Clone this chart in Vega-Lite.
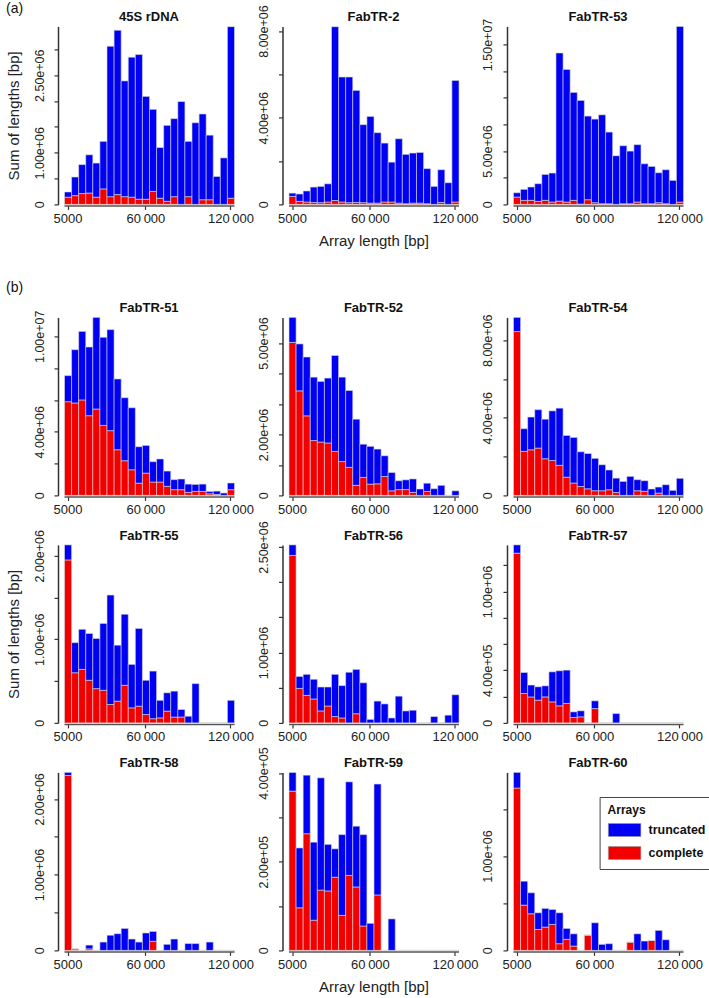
{
  "$schema": "https://vega.github.io/schema/vega-lite/v6.json",
  "background": "white",
  "padding": {"left": 5, "top": 2.4, "right": 0, "bottom": 0},
  "config": {
    "font": "Liberation Sans",
    "view": {"stroke": null},
    "bar": {"binSpacing": 0, "stroke": "#d9d9d9", "strokeWidth": 0.6},
    "axis": {"grid": false, "domainColor": "#333333", "domainWidth": 1.5, "tickColor": "#333333", "tickWidth": 1.2, "tickSize": 4, "labelFont": "Liberation Sans", "labelFontSize": 13, "labelColor": "#222222", "titleFont": "Liberation Sans", "titleFontSize": 15, "titleFontWeight": "normal", "titleColor": "#222222", "labelOverlap": false, "labelBound": false},
    "axisX": {"labelPadding": 3, "labelFlush": false, "titlePadding": 8.5, "offset": 1, "domainColor": "#555555"},
    "axisY": {"labelAngle": -90, "labelAlign": "center", "labelBaseline": "bottom", "labelPadding": 8, "offset": 6, "titlePadding": 12, "labelFontSize": 12.5},
    "title": {"fontSize": 13, "fontWeight": "bold", "offset": 2, "color": "#111111", "font": "Liberation Sans"}
  },
  "datasets": {
    "p45": [
      {"len":5000,"complete":140000,"truncated":100000},{"len":10000,"complete":170000,"truncated":360000},{"len":15000,"complete":210000,"truncated":560000},{"len":20000,"complete":220000,"truncated":740000},{"len":25000,"complete":140000,"truncated":660000},{"len":30000,"complete":300000,"truncated":920000},{"len":35000,"complete":150000,"truncated":2910000},{"len":40000,"complete":190000,"truncated":3180000},{"len":45000,"complete":150000,"truncated":2240000},{"len":50000,"complete":140000,"truncated":2710000},{"len":55000,"complete":100000,"truncated":2800000},{"len":60000,"complete":100000,"truncated":1990000},{"len":65000,"complete":250000,"truncated":1590000},{"len":70000,"complete":120000,"truncated":980000},{"len":75000,"complete":60000,"truncated":1470000},{"len":80000,"complete":150000,"truncated":1510000},{"len":85000,"complete":0,"truncated":1990000},{"len":90000,"complete":150000,"truncated":1070000},{"len":95000,"complete":0,"truncated":1580000},{"len":100000,"complete":90000,"truncated":1660000},{"len":105000,"complete":90000,"truncated":1250000},{"len":110000,"complete":0,"truncated":540000},{"len":115000,"complete":0,"truncated":900000},{"len":120000,"complete":120000,"truncated":3320000}
    ],
    "p2": [
      {"len":5000,"complete":370000,"truncated":150000},{"len":10000,"complete":140000,"truncated":340000},{"len":15000,"complete":110000,"truncated":510000},{"len":20000,"complete":90000,"truncated":710000},{"len":25000,"complete":80000,"truncated":750000},{"len":30000,"complete":110000,"truncated":840000},{"len":35000,"complete":180000,"truncated":8020000},{"len":40000,"complete":110000,"truncated":5770000},{"len":45000,"complete":80000,"truncated":5800000},{"len":50000,"complete":90000,"truncated":5170000},{"len":55000,"complete":80000,"truncated":3600000},{"len":60000,"complete":60000,"truncated":4000000},{"len":65000,"complete":60000,"truncated":3250000},{"len":70000,"complete":110000,"truncated":2720000},{"len":75000,"complete":110000,"truncated":1840000},{"len":80000,"complete":60000,"truncated":2970000},{"len":85000,"complete":30000,"truncated":2280000},{"len":90000,"complete":60000,"truncated":2310000},{"len":95000,"complete":60000,"truncated":2340000},{"len":100000,"complete":30000,"truncated":1620000},{"len":105000,"complete":0,"truncated":830000},{"len":110000,"complete":90000,"truncated":1510000},{"len":115000,"complete":0,"truncated":1000000},{"len":120000,"complete":110000,"truncated":5610000}
    ],
    "p53": [
      {"len":5000,"complete":690000,"truncated":400000},{"len":10000,"complete":380000,"truncated":1030000},{"len":15000,"complete":380000,"truncated":1250000},{"len":20000,"complete":280000,"truncated":1660000},{"len":25000,"complete":380000,"truncated":2430000},{"len":30000,"complete":220000,"truncated":2720000},{"len":35000,"complete":310000,"truncated":13890000},{"len":40000,"complete":220000,"truncated":12440000},{"len":45000,"complete":380000,"truncated":10120000},{"len":50000,"complete":30000,"truncated":9720000},{"len":55000,"complete":440000,"truncated":7840000},{"len":60000,"complete":160000,"truncated":7840000},{"len":65000,"complete":60000,"truncated":8340000},{"len":70000,"complete":60000,"truncated":6720000},{"len":75000,"complete":0,"truncated":4560000},{"len":80000,"complete":60000,"truncated":5440000},{"len":85000,"complete":60000,"truncated":4940000},{"len":90000,"complete":220000,"truncated":5380000},{"len":95000,"complete":60000,"truncated":3750000},{"len":100000,"complete":60000,"truncated":3500000},{"len":105000,"complete":160000,"truncated":2810000},{"len":110000,"complete":60000,"truncated":3190000},{"len":115000,"complete":0,"truncated":2250000},{"len":120000,"complete":220000,"truncated":16460000}
    ],
    "p51": [
      {"len":5000,"complete":5890000,"truncated":1640000},{"len":10000,"complete":5810000,"truncated":3350000},{"len":15000,"complete":6000000,"truncated":4310000},{"len":20000,"complete":5010000,"truncated":4320000},{"len":25000,"complete":5430000,"truncated":5760000},{"len":30000,"complete":4400000,"truncated":5540000},{"len":35000,"complete":4070000,"truncated":6350000},{"len":40000,"complete":2870000,"truncated":4450000},{"len":45000,"complete":2180000,"truncated":3960000},{"len":50000,"complete":1610000,"truncated":3900000},{"len":55000,"complete":770000,"truncated":2290000},{"len":60000,"complete":1400000,"truncated":1740000},{"len":65000,"complete":840000,"truncated":1280000},{"len":70000,"complete":840000,"truncated":1450000},{"len":75000,"complete":570000,"truncated":960000},{"len":80000,"complete":360000,"truncated":630000},{"len":85000,"complete":360000,"truncated":670000},{"len":90000,"complete":190000,"truncated":520000},{"len":95000,"complete":250000,"truncated":440000},{"len":100000,"complete":250000,"truncated":460000},{"len":105000,"complete":100000,"truncated":150000},{"len":110000,"complete":60000,"truncated":210000},{"len":115000,"complete":0,"truncated":150000},{"len":120000,"complete":360000,"truncated":420000}
    ],
    "p52": [
      {"len":5000,"complete":5020000,"truncated":820000},{"len":10000,"complete":3430000,"truncated":1540000},{"len":15000,"complete":2610000,"truncated":1930000},{"len":20000,"complete":1800000,"truncated":2080000},{"len":25000,"complete":1750000,"truncated":1990000},{"len":30000,"complete":1720000,"truncated":2130000},{"len":35000,"complete":1440000,"truncated":3150000},{"len":40000,"complete":1110000,"truncated":2770000},{"len":45000,"complete":920000,"truncated":2520000},{"len":50000,"complete":330000,"truncated":2170000},{"len":55000,"complete":590000,"truncated":1090000},{"len":60000,"complete":370000,"truncated":1240000},{"len":65000,"complete":380000,"truncated":1140000},{"len":70000,"complete":620000,"truncated":680000},{"len":75000,"complete":150000,"truncated":600000},{"len":80000,"complete":190000,"truncated":290000},{"len":85000,"complete":190000,"truncated":320000},{"len":90000,"complete":100000,"truncated":440000},{"len":95000,"complete":0,"truncated":210000},{"len":100000,"complete":130000,"truncated":270000},{"len":105000,"complete":0,"truncated":220000},{"len":110000,"complete":0,"truncated":330000},{"len":115000,"complete":0,"truncated":0},{"len":120000,"complete":0,"truncated":150000}
    ],
    "p54": [
      {"len":5000,"complete":8450000,"truncated":730000},{"len":10000,"complete":2270000,"truncated":1170000},{"len":15000,"complete":2350000,"truncated":1690000},{"len":20000,"complete":2440000,"truncated":1980000},{"len":25000,"complete":1890000,"truncated":2040000},{"len":30000,"complete":1800000,"truncated":2560000},{"len":35000,"complete":1550000,"truncated":2950000},{"len":40000,"complete":940000,"truncated":2150000},{"len":45000,"complete":640000,"truncated":2350000},{"len":50000,"complete":460000,"truncated":1790000},{"len":55000,"complete":340000,"truncated":1820000},{"len":60000,"complete":240000,"truncated":1670000},{"len":65000,"complete":240000,"truncated":1340000},{"len":70000,"complete":290000,"truncated":1020000},{"len":75000,"complete":150000,"truncated":740000},{"len":80000,"complete":0,"truncated":720000},{"len":85000,"complete":0,"truncated":980000},{"len":90000,"complete":240000,"truncated":570000},{"len":95000,"complete":210000,"truncated":550000},{"len":100000,"complete":0,"truncated":330000},{"len":105000,"complete":120000,"truncated":310000},{"len":110000,"complete":0,"truncated":550000},{"len":115000,"complete":0,"truncated":260000},{"len":120000,"complete":0,"truncated":880000}
    ],
    "p55": [
      {"len":5000,"complete":1950000,"truncated":180000},{"len":10000,"complete":600000,"truncated":360000},{"len":15000,"complete":640000,"truncated":480000},{"len":20000,"complete":510000,"truncated":560000},{"len":25000,"complete":410000,"truncated":600000},{"len":30000,"complete":390000,"truncated":800000},{"len":35000,"complete":220000,"truncated":1310000},{"len":40000,"complete":260000,"truncated":670000},{"len":45000,"complete":450000,"truncated":850000},{"len":50000,"complete":180000,"truncated":520000},{"len":55000,"complete":200000,"truncated":930000},{"len":60000,"complete":100000,"truncated":410000},{"len":65000,"complete":50000,"truncated":570000},{"len":70000,"complete":60000,"truncated":210000},{"len":75000,"complete":140000,"truncated":220000},{"len":80000,"complete":70000,"truncated":310000},{"len":85000,"complete":70000,"truncated":90000},{"len":90000,"complete":0,"truncated":80000},{"len":95000,"complete":0,"truncated":470000},{"len":100000,"complete":0,"truncated":0},{"len":105000,"complete":0,"truncated":0},{"len":110000,"complete":0,"truncated":0},{"len":115000,"complete":0,"truncated":0},{"len":120000,"complete":0,"truncated":270000}
    ],
    "p56": [
      {"len":5000,"complete":2380000,"truncated":150000},{"len":10000,"complete":490000,"truncated":170000},{"len":15000,"complete":390000,"truncated":300000},{"len":20000,"complete":340000,"truncated":280000},{"len":25000,"complete":170000,"truncated":340000},{"len":30000,"complete":240000,"truncated":270000},{"len":35000,"complete":90000,"truncated":600000},{"len":40000,"complete":70000,"truncated":460000},{"len":45000,"complete":0,"truncated":720000},{"len":50000,"complete":130000,"truncated":630000},{"len":55000,"complete":0,"truncated":570000},{"len":60000,"complete":0,"truncated":50000},{"len":65000,"complete":0,"truncated":310000},{"len":70000,"complete":0,"truncated":270000},{"len":75000,"complete":0,"truncated":70000},{"len":80000,"complete":0,"truncated":380000},{"len":85000,"complete":0,"truncated":170000},{"len":90000,"complete":0,"truncated":180000},{"len":95000,"complete":0,"truncated":0},{"len":100000,"complete":0,"truncated":0},{"len":105000,"complete":0,"truncated":90000},{"len":110000,"complete":0,"truncated":0},{"len":115000,"complete":0,"truncated":110000},{"len":120000,"complete":0,"truncated":400000}
    ],
    "p57": [
      {"len":5000,"complete":1293000,"truncated":63000},{"len":10000,"complete":224000,"truncated":160000},{"len":15000,"complete":198000,"truncated":90000},{"len":20000,"complete":173000,"truncated":102000},{"len":25000,"complete":198000,"truncated":84000},{"len":30000,"complete":160000,"truncated":229000},{"len":35000,"complete":130000,"truncated":267000},{"len":40000,"complete":148000,"truncated":254000},{"len":45000,"complete":41000,"truncated":43000},{"len":50000,"complete":46000,"truncated":46000},{"len":55000,"complete":0,"truncated":0},{"len":60000,"complete":109000,"truncated":59000},{"len":65000,"complete":0,"truncated":0},{"len":70000,"complete":0,"truncated":0},{"len":75000,"complete":0,"truncated":71000},{"len":80000,"complete":0,"truncated":0},{"len":85000,"complete":0,"truncated":0},{"len":90000,"complete":0,"truncated":0},{"len":95000,"complete":0,"truncated":0},{"len":100000,"complete":0,"truncated":0},{"len":105000,"complete":0,"truncated":0},{"len":110000,"complete":0,"truncated":0},{"len":115000,"complete":0,"truncated":0},{"len":120000,"complete":0,"truncated":0}
    ],
    "p58": [
      {"len":5000,"complete":2310000,"truncated":40000},{"len":10000,"complete":20000,"truncated":0},{"len":15000,"complete":0,"truncated":0},{"len":20000,"complete":20000,"truncated":50000},{"len":25000,"complete":0,"truncated":0},{"len":30000,"complete":0,"truncated":110000},{"len":35000,"complete":0,"truncated":200000},{"len":40000,"complete":0,"truncated":220000},{"len":45000,"complete":0,"truncated":290000},{"len":50000,"complete":0,"truncated":150000},{"len":55000,"complete":0,"truncated":110000},{"len":60000,"complete":0,"truncated":230000},{"len":65000,"complete":120000,"truncated":130000},{"len":70000,"complete":0,"truncated":0},{"len":75000,"complete":0,"truncated":80000},{"len":80000,"complete":0,"truncated":150000},{"len":85000,"complete":0,"truncated":0},{"len":90000,"complete":0,"truncated":90000},{"len":95000,"complete":0,"truncated":90000},{"len":100000,"complete":0,"truncated":0},{"len":105000,"complete":0,"truncated":110000},{"len":110000,"complete":0,"truncated":0},{"len":115000,"complete":0,"truncated":0},{"len":120000,"complete":0,"truncated":0}
    ],
    "p59": [
      {"len":5000,"complete":359000,"truncated":42000},{"len":10000,"complete":96000,"truncated":135000},{"len":15000,"complete":263000,"truncated":132000},{"len":20000,"complete":68000,"truncated":176000},{"len":25000,"complete":136000,"truncated":253000},{"len":30000,"complete":134000,"truncated":105000},{"len":35000,"complete":165000,"truncated":64000},{"len":40000,"complete":79000,"truncated":182000},{"len":45000,"complete":169000,"truncated":211000},{"len":50000,"complete":143000,"truncated":137000},{"len":55000,"complete":55000,"truncated":206000},{"len":60000,"complete":0,"truncated":61000},{"len":65000,"complete":125000,"truncated":250000},{"len":70000,"complete":0,"truncated":0},{"len":75000,"complete":0,"truncated":71000},{"len":80000,"complete":0,"truncated":0},{"len":85000,"complete":0,"truncated":0},{"len":90000,"complete":0,"truncated":0},{"len":95000,"complete":0,"truncated":0},{"len":100000,"complete":0,"truncated":0},{"len":105000,"complete":0,"truncated":0},{"len":110000,"complete":0,"truncated":0},{"len":115000,"complete":0,"truncated":0},{"len":120000,"complete":0,"truncated":0}
    ],
    "p60": [
      {"len":5000,"complete":1722000,"truncated":166000},{"len":10000,"complete":480000,"truncated":254000},{"len":15000,"complete":388000,"truncated":223000},{"len":20000,"complete":222000,"truncated":177000},{"len":25000,"complete":247000,"truncated":198000},{"len":30000,"complete":275000,"truncated":159000},{"len":35000,"complete":71000,"truncated":328000},{"len":40000,"complete":117000,"truncated":116000},{"len":45000,"complete":46000,"truncated":130000},{"len":50000,"complete":0,"truncated":0},{"len":55000,"complete":162000,"truncated":0},{"len":60000,"complete":0,"truncated":293000},{"len":65000,"complete":0,"truncated":64000},{"len":70000,"complete":0,"truncated":71000},{"len":75000,"complete":0,"truncated":0},{"len":80000,"complete":0,"truncated":0},{"len":85000,"complete":88000,"truncated":0},{"len":90000,"complete":0,"truncated":176000},{"len":95000,"complete":0,"truncated":99000},{"len":100000,"complete":106000,"truncated":0},{"len":105000,"complete":0,"truncated":212000},{"len":110000,"complete":0,"truncated":113000},{"len":115000,"complete":0,"truncated":0},{"len":120000,"complete":0,"truncated":0}
    ]
  },
  "resolve": {"scale": {"color": "independent"}, "legend": {"color": "independent"}},
  "spacing": 31,
  "vconcat": [
    {
      "title": {"text": "(a)", "anchor": "start", "frame": "bounds", "fontWeight": "normal", "fontSize": 14, "offset": -11.6},
      "bounds": "flush",
      "spacing": 54.5,
      "resolve": {"scale": {"color": "independent"}, "legend": {"color": "independent"}},
      "hconcat": [
        {"title": {"text": "45S rDNA", "offset": 2}, "width": 170, "height": 178, "data": {"name": "p45"},
         "transform": [{"fold": ["complete", "truncated"], "as": ["type", "bp"]}],
         "mark": "bar",
         "encoding": {
           "x": {"field": "len", "type": "quantitative", "bin": {"step": 5000, "extent": [2500, 122500], "nice": false}, "scale": {"domain": [2500, 122500]}, "axis": {"values": [5000, 60000, 120000], "labelExpr": "datum.value == 5000 ? '5000' : datum.value == 60000 ? '60\u2009000' : '120\u2009000'", "title": null}},
           "y": {"aggregate": "sum", "field": "bp", "type": "quantitative", "scale": {"domain": [0, 3445000], "nice": false}, "axis": {"values": [0, 500000, 1000000, 1500000, 2000000, 2500000, 3000000], "labelExpr": "datum.value == 0 ? '0' : indexof([1000000, 2500000], datum.value) >= 0 ? replace(format(datum.value, '.2e'), 'e+', 'e+0') : ''", "title": "Sum of lengths [bp]"}},
           "color": {"field": "type", "type": "nominal", "scale": {"domain": ["truncated", "complete"], "range": ["#0000f2", "#f20000"]}, "legend": null},
           "order": {"field": "type", "type": "nominal", "sort": "ascending"}
         }},
        {"title": {"text": "FabTR-2", "offset": -19.6}, "width": 170, "height": 178, "data": {"name": "p2"},
         "transform": [{"fold": ["complete", "truncated"], "as": ["type", "bp"]}],
         "mark": "bar",
         "encoding": {
           "x": {"field": "len", "type": "quantitative", "bin": {"step": 5000, "extent": [2500, 122500], "nice": false}, "scale": {"domain": [2500, 122500]}, "axis": {"values": [5000, 60000, 120000], "labelExpr": "datum.value == 5000 ? '5000' : datum.value == 60000 ? '60\u2009000' : '120\u2009000'", "title": "Array length [bp]"}},
           "y": {"aggregate": "sum", "field": "bp", "type": "quantitative", "scale": {"domain": [0, 8215000], "nice": false}, "axis": {"values": [0, 2000000, 4000000, 6000000, 8000000], "labelExpr": "datum.value == 0 ? '0' : indexof([4000000, 8000000], datum.value) >= 0 ? replace(format(datum.value, '.2e'), 'e+', 'e+0') : ''", "title": null}},
           "color": {"field": "type", "type": "nominal", "scale": {"domain": ["truncated", "complete"], "range": ["#0000f2", "#f20000"]}, "legend": null},
           "order": {"field": "type", "type": "nominal", "sort": "ascending"}
         }},
        {"title": {"text": "FabTR-53", "offset": -6.2}, "width": 170, "height": 178, "data": {"name": "p53"},
         "transform": [{"fold": ["complete", "truncated"], "as": ["type", "bp"]}],
         "mark": "bar",
         "encoding": {
           "x": {"field": "len", "type": "quantitative", "bin": {"step": 5000, "extent": [2500, 122500], "nice": false}, "scale": {"domain": [2500, 122500]}, "axis": {"values": [5000, 60000, 120000], "labelExpr": "datum.value == 5000 ? '5000' : datum.value == 60000 ? '60\u2009000' : '120\u2009000'", "title": null}},
           "y": {"aggregate": "sum", "field": "bp", "type": "quantitative", "scale": {"domain": [0, 16690000], "nice": false}, "axis": {"values": [0, 2500000, 5000000, 7500000, 10000000, 12500000, 15000000], "labelExpr": "datum.value == 0 ? '0' : indexof([5000000, 15000000], datum.value) >= 0 ? replace(format(datum.value, '.2e'), 'e+', 'e+0') : ''", "title": null}},
           "color": {"field": "type", "type": "nominal", "scale": {"domain": ["truncated", "complete"], "range": ["#0000f2", "#f20000"]}, "legend": null},
           "order": {"field": "type", "type": "nominal", "sort": "ascending"}
         }}
      ]
    },
    {
      "title": {"text": "(b)", "anchor": "start", "frame": "bounds", "fontWeight": "normal", "fontSize": 14, "offset": 7},
      "bounds": "flush",
      "columns": 3,
      "spacing": {"row": 49.5, "column": 54.5},
      "resolve": {"scale": {"color": "independent"}, "legend": {"color": "independent"}},
      "concat": [
        {"title": {"text": "FabTR-51", "offset": -5.3}, "width": 170, "height": 178, "data": {"name": "p51"},
         "transform": [{"fold": ["complete", "truncated"], "as": ["type", "bp"]}],
         "mark": "bar",
         "encoding": {
           "x": {"field": "len", "type": "quantitative", "bin": {"step": 5000, "extent": [2500, 122500], "nice": false}, "scale": {"domain": [2500, 122500]}, "axis": {"values": [5000, 60000, 120000], "labelExpr": "datum.value == 5000 ? '5000' : datum.value == 60000 ? '60\u2009000' : '120\u2009000'", "title": null}},
           "y": {"aggregate": "sum", "field": "bp", "type": "quantitative", "scale": {"domain": [0, 11190000], "nice": false}, "axis": {"values": [0, 2000000, 4000000, 6000000, 8000000, 10000000], "labelExpr": "datum.value == 0 ? '0' : indexof([4000000, 10000000], datum.value) >= 0 ? replace(format(datum.value, '.2e'), 'e+', 'e+0') : ''", "title": null}},
           "color": {"field": "type", "type": "nominal", "scale": {"domain": ["truncated", "complete"], "range": ["#0000f2", "#f20000"]}, "legend": null},
           "order": {"field": "type", "type": "nominal", "sort": "ascending"}
         }},
        {"title": {"text": "FabTR-52", "offset": 1.35}, "width": 170, "height": 178, "data": {"name": "p52"},
         "transform": [{"fold": ["complete", "truncated"], "as": ["type", "bp"]}],
         "mark": "bar",
         "encoding": {
           "x": {"field": "len", "type": "quantitative", "bin": {"step": 5000, "extent": [2500, 122500], "nice": false}, "scale": {"domain": [2500, 122500]}, "axis": {"values": [5000, 60000, 120000], "labelExpr": "datum.value == 5000 ? '5000' : datum.value == 60000 ? '60\u2009000' : '120\u2009000'", "title": null}},
           "y": {"aggregate": "sum", "field": "bp", "type": "quantitative", "scale": {"domain": [0, 5840000], "nice": false}, "axis": {"values": [0, 1000000, 2000000, 3000000, 4000000, 5000000], "labelExpr": "datum.value == 0 ? '0' : indexof([2000000, 5000000], datum.value) >= 0 ? replace(format(datum.value, '.2e'), 'e+', 'e+0') : ''", "title": null}},
           "color": {"field": "type", "type": "nominal", "scale": {"domain": ["truncated", "complete"], "range": ["#0000f2", "#f20000"]}, "legend": null},
           "order": {"field": "type", "type": "nominal", "sort": "ascending"}
         }},
        {"title": {"text": "FabTR-54", "offset": -1.4}, "width": 170, "height": 178, "data": {"name": "p54"},
         "transform": [{"fold": ["complete", "truncated"], "as": ["type", "bp"]}],
         "mark": "bar",
         "encoding": {
           "x": {"field": "len", "type": "quantitative", "bin": {"step": 5000, "extent": [2500, 122500], "nice": false}, "scale": {"domain": [2500, 122500]}, "axis": {"values": [5000, 60000, 120000], "labelExpr": "datum.value == 5000 ? '5000' : datum.value == 60000 ? '60\u2009000' : '120\u2009000'", "title": null}},
           "y": {"aggregate": "sum", "field": "bp", "type": "quantitative", "scale": {"domain": [0, 9180000], "nice": false}, "axis": {"values": [0, 2000000, 4000000, 6000000, 8000000], "labelExpr": "datum.value == 0 ? '0' : indexof([4000000, 8000000], datum.value) >= 0 ? replace(format(datum.value, '.2e'), 'e+', 'e+0') : ''", "title": null}},
           "color": {"field": "type", "type": "nominal", "scale": {"domain": ["truncated", "complete"], "range": ["#0000f2", "#f20000"]}, "legend": null},
           "order": {"field": "type", "type": "nominal", "sort": "ascending"}
         }},
        {"title": {"text": "FabTR-55", "offset": -13.4}, "width": 170, "height": 178, "data": {"name": "p55"},
         "transform": [{"fold": ["complete", "truncated"], "as": ["type", "bp"]}],
         "mark": "bar",
         "encoding": {
           "x": {"field": "len", "type": "quantitative", "bin": {"step": 5000, "extent": [2500, 122500], "nice": false}, "scale": {"domain": [2500, 122500]}, "axis": {"values": [5000, 60000, 120000], "labelExpr": "datum.value == 5000 ? '5000' : datum.value == 60000 ? '60\u2009000' : '120\u2009000'", "title": null}},
           "y": {"aggregate": "sum", "field": "bp", "type": "quantitative", "scale": {"domain": [0, 2130000], "nice": false}, "axis": {"values": [0, 500000, 1000000, 1500000, 2000000], "labelExpr": "datum.value == 0 ? '0' : indexof([1000000, 2000000], datum.value) >= 0 ? replace(format(datum.value, '.2e'), 'e+', 'e+0') : ''", "title": "Sum of lengths [bp]"}},
           "color": {"field": "type", "type": "nominal", "scale": {"domain": ["truncated", "complete"], "range": ["#0000f2", "#f20000"]}, "legend": null},
           "order": {"field": "type", "type": "nominal", "sort": "ascending"}
         }},
        {"title": {"text": "FabTR-56", "offset": -22.1}, "width": 170, "height": 178, "data": {"name": "p56"},
         "transform": [{"fold": ["complete", "truncated"], "as": ["type", "bp"]}],
         "mark": "bar",
         "encoding": {
           "x": {"field": "len", "type": "quantitative", "bin": {"step": 5000, "extent": [2500, 122500], "nice": false}, "scale": {"domain": [2500, 122500]}, "axis": {"values": [5000, 60000, 120000], "labelExpr": "datum.value == 5000 ? '5000' : datum.value == 60000 ? '60\u2009000' : '120\u2009000'", "title": null}},
           "y": {"aggregate": "sum", "field": "bp", "type": "quantitative", "scale": {"domain": [0, 2530000], "nice": false}, "axis": {"values": [0, 500000, 1000000, 1500000, 2000000, 2500000], "labelExpr": "datum.value == 0 ? '0' : indexof([1000000, 2500000], datum.value) >= 0 ? replace(format(datum.value, '.2e'), 'e+', 'e+0') : ''", "title": null}},
           "color": {"field": "type", "type": "nominal", "scale": {"domain": ["truncated", "complete"], "range": ["#0000f2", "#f20000"]}, "legend": null},
           "order": {"field": "type", "type": "nominal", "sort": "ascending"}
         }},
        {"title": {"text": "FabTR-57", "offset": 2}, "width": 170, "height": 178, "data": {"name": "p57"},
         "transform": [{"fold": ["complete", "truncated"], "as": ["type", "bp"]}],
         "mark": "bar",
         "encoding": {
           "x": {"field": "len", "type": "quantitative", "bin": {"step": 5000, "extent": [2500, 122500], "nice": false}, "scale": {"domain": [2500, 122500]}, "axis": {"values": [5000, 60000, 120000], "labelExpr": "datum.value == 5000 ? '5000' : datum.value == 60000 ? '60\u2009000' : '120\u2009000'", "title": null}},
           "y": {"aggregate": "sum", "field": "bp", "type": "quantitative", "scale": {"domain": [0, 1356000], "nice": false}, "axis": {"values": [0, 200000, 400000, 600000, 800000, 1000000, 1200000], "labelExpr": "datum.value == 0 ? '0' : indexof([400000, 1000000], datum.value) >= 0 ? replace(format(datum.value, '.2e'), 'e+', 'e+0') : ''", "title": null}},
           "color": {"field": "type", "type": "nominal", "scale": {"domain": ["truncated", "complete"], "range": ["#0000f2", "#f20000"]}, "legend": null},
           "order": {"field": "type", "type": "nominal", "sort": "ascending"}
         }},
        {"title": {"text": "FabTR-58", "offset": 2}, "width": 170, "height": 178, "data": {"name": "p58"},
         "transform": [{"fold": ["complete", "truncated"], "as": ["type", "bp"]}],
         "mark": "bar",
         "encoding": {
           "x": {"field": "len", "type": "quantitative", "bin": {"step": 5000, "extent": [2500, 122500], "nice": false}, "scale": {"domain": [2500, 122500]}, "axis": {"values": [5000, 60000, 120000], "labelExpr": "datum.value == 5000 ? '5000' : datum.value == 60000 ? '60\u2009000' : '120\u2009000'", "title": null}},
           "y": {"aggregate": "sum", "field": "bp", "type": "quantitative", "scale": {"domain": [0, 2350000], "nice": false}, "axis": {"values": [0, 500000, 1000000, 1500000, 2000000], "labelExpr": "datum.value == 0 ? '0' : indexof([1000000, 2000000], datum.value) >= 0 ? replace(format(datum.value, '.2e'), 'e+', 'e+0') : ''", "title": null}},
           "color": {"field": "type", "type": "nominal", "scale": {"domain": ["truncated", "complete"], "range": ["#0000f2", "#f20000"]}, "legend": null},
           "order": {"field": "type", "type": "nominal", "sort": "ascending"}
         }},
        {"title": {"text": "FabTR-59", "offset": -23.7}, "width": 170, "height": 178, "data": {"name": "p59"},
         "transform": [{"fold": ["complete", "truncated"], "as": ["type", "bp"]}],
         "mark": "bar",
         "encoding": {
           "x": {"field": "len", "type": "quantitative", "bin": {"step": 5000, "extent": [2500, 122500], "nice": false}, "scale": {"domain": [2500, 122500]}, "axis": {"values": [5000, 60000, 120000], "labelExpr": "datum.value == 5000 ? '5000' : datum.value == 60000 ? '60\u2009000' : '120\u2009000'", "title": "Array length [bp]"}},
           "y": {"aggregate": "sum", "field": "bp", "type": "quantitative", "scale": {"domain": [0, 401300], "nice": false}, "axis": {"values": [0, 100000, 200000, 300000, 400000], "labelExpr": "datum.value == 0 ? '0' : indexof([200000, 400000], datum.value) >= 0 ? replace(format(datum.value, '.2e'), 'e+', 'e+0') : ''", "title": null}},
           "color": {"field": "type", "type": "nominal", "scale": {"domain": ["truncated", "complete"], "range": ["#0000f2", "#f20000"]}, "legend": null},
           "order": {"field": "type", "type": "nominal", "sort": "ascending"}
         }},
        {"title": {"text": "FabTR-60", "offset": 2}, "width": 170, "height": 178, "data": {"name": "p60"},
         "transform": [{"fold": ["complete", "truncated"], "as": ["type", "bp"]}],
         "mark": "bar",
         "encoding": {
           "x": {"field": "len", "type": "quantitative", "bin": {"step": 5000, "extent": [2500, 122500], "nice": false}, "scale": {"domain": [2500, 122500]}, "axis": {"values": [5000, 60000, 120000], "labelExpr": "datum.value == 5000 ? '5000' : datum.value == 60000 ? '60\u2009000' : '120\u2009000'", "title": null}},
           "y": {"aggregate": "sum", "field": "bp", "type": "quantitative", "scale": {"domain": [0, 1888000], "nice": false}, "axis": {"values": [0, 500000, 1000000, 1500000], "labelExpr": "datum.value == 0 ? '0' : indexof([1000000], datum.value) >= 0 ? replace(format(datum.value, '.2e'), 'e+', 'e+0') : ''", "title": null}},
           "color": {"field": "type", "type": "nominal", "scale": {"domain": ["truncated", "complete"], "range": ["#0000f2", "#f20000"]},
             "legend": {"orient": "none", "legendX": 86.6, "legendY": 24.6, "title": "Arrays", "titleFontSize": 12, "titleFontWeight": "bold", "titleColor": "#111111", "titlePadding": 6, "labelFontSize": 12.5, "labelFontWeight": "bold", "labelColor": "#111111", "fillColor": "white", "strokeColor": "#444444", "padding": 8, "symbolType": "M-2.5,-1H2.5V1H-2.5Z", "symbolSize": 169, "symbolStrokeColor": "#999999", "symbolStrokeWidth": 0.5, "symbolOpacity": 1, "symbolOffset": 10, "labelOffset": 17, "rowPadding": 7}},
           "order": {"field": "type", "type": "nominal", "sort": "ascending"}
         }}
      ]
    }
  ]
}
